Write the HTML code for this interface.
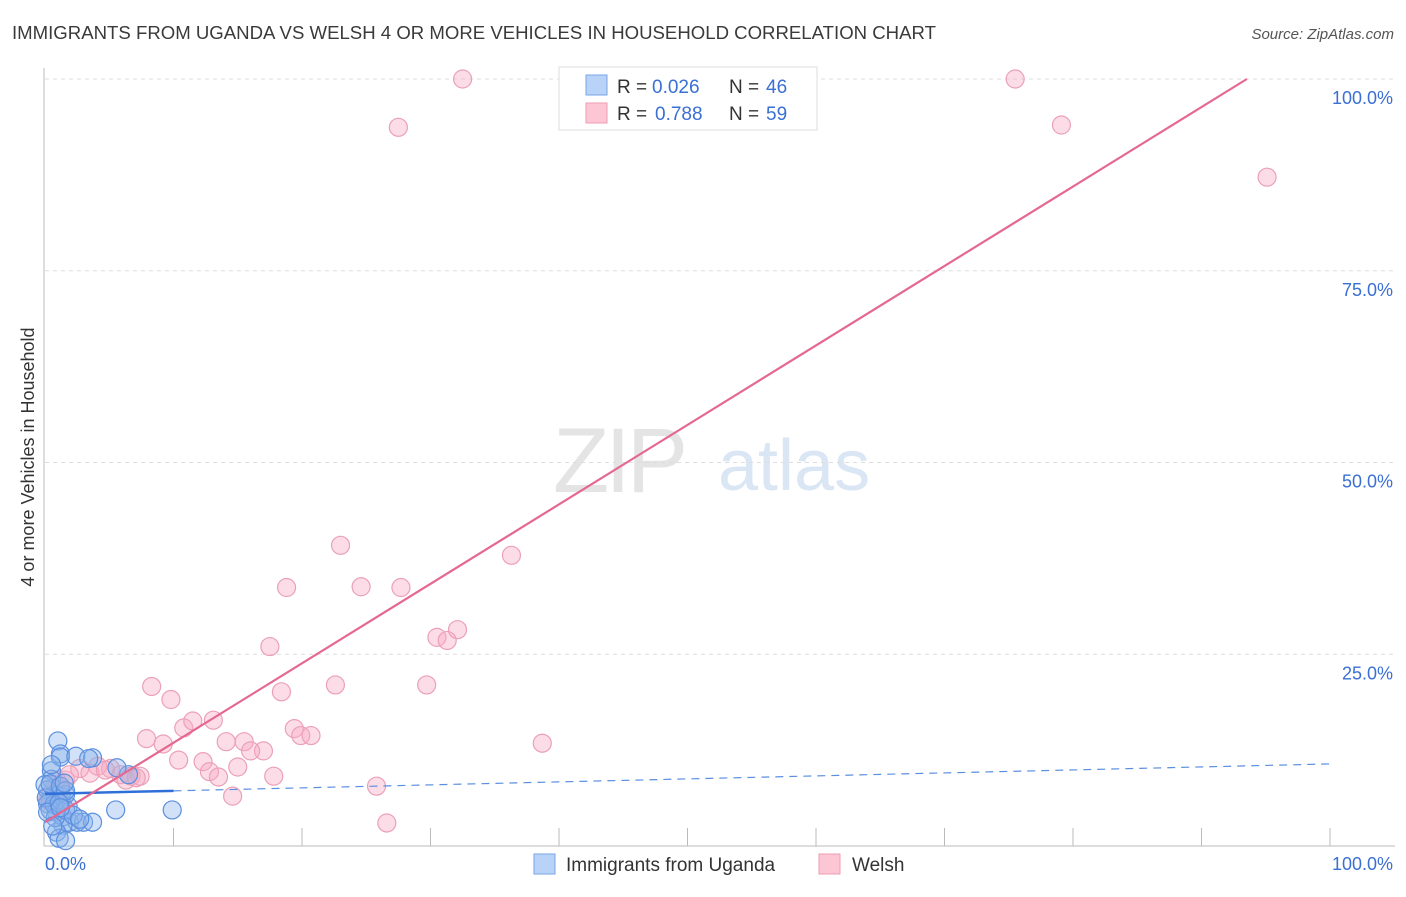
<!DOCTYPE html>
<html><head><meta charset="utf-8"><style>
body{margin:0;background:#fff;font-family:"Liberation Sans",sans-serif;}
svg text{font-family:"Liberation Sans",sans-serif;}
</style></head><body>
<svg id="chart" width="1406" height="892" xmlns="http://www.w3.org/2000/svg">
<text x="12" y="39" font-size="18.6" fill="#3a3a3a">IMMIGRANTS FROM UGANDA VS WELSH 4 OR MORE VEHICLES IN HOUSEHOLD CORRELATION CHART</text>
<text x="1394" y="39" font-size="15" fill="#555" text-anchor="end" font-style="italic">Source: ZipAtlas.com</text>
<g>
<text x="553" y="492" font-size="92" fill="#e4e4e4" font-family="Liberation Serif, serif" letter-spacing="-4">ZIP</text>
<text x="718" y="490" font-size="72" fill="#dbe6f5">atlas</text>
</g>
<g id="grid"></g>
<g id="axes"></g>
<g id="marks"></g>
<text transform="translate(34,457) rotate(-90)" font-size="18" fill="#333" text-anchor="middle">4 or more Vehicles in Household</text>
<g>
<rect x="559" y="67" width="258" height="63" fill="#fff" stroke="#ddd"/>
<rect x="586" y="75" width="21" height="20" fill="#b8d3f7" stroke="#7aa6e6"/>
<rect x="586" y="103" width="21" height="20" fill="#fcc6d5" stroke="#ee9db5"/>
<text x="617" y="93" font-size="19" fill="#333">R =</text>
<text x="652" y="93" font-size="19" fill="#3a6fd4">0.026</text>
<text x="729" y="93" font-size="19" fill="#333">N =</text>
<text x="766" y="93" font-size="19" fill="#3a6fd4">46</text>
<text x="617" y="120" font-size="19" fill="#333">R =</text>
<text x="655" y="120" font-size="19" fill="#3a6fd4">0.788</text>
<text x="729" y="120" font-size="19" fill="#333">N =</text>
<text x="766" y="120" font-size="19" fill="#3a6fd4">59</text>
</g>
<g>
<rect x="534" y="854" width="21" height="20" fill="#b8d3f7" stroke="#7aa6e6"/>
<text x="566" y="871" font-size="19" fill="#333">Immigrants from Uganda</text>
<rect x="819" y="854" width="21" height="20" fill="#fcc6d5" stroke="#ee9db5"/>
<text x="852" y="871" font-size="19" fill="#333">Welsh</text>
</g>
</svg>
<script>
const yTicks=[25,50,75,100];
const yTickLabels=["25.0%","50.0%","75.0%","100.0%"];
const xTicks=[10,20,30,40,50,60,70,80,90,100];
const xEndLabels=["0.0%","100.0%"];
const ugandaX=[1.0,1.2,1.2,2.4,3.7,3.4,0.5,0.5,0.2,0.8,0.4,1.3,0.2,1.8,0.9,1.4,1.9,2.5,3.0,3.7,1.4,0.9,1.1,1.6,5.5,9.9,6.5,5.6,0.4,0.7,1.6,0.0,0.1,0.4,1.2,1.6,0.8,1.6,2.2,2.7,0.2,0.6,1.1,1.2,1.5,0.5];
const ugandaY=[13.7,12.0,11.6,11.7,11.5,11.4,9.8,8.7,7.3,6.7,6.0,6.4,5.5,5.2,4.4,3.8,3.1,3.1,3.1,3.1,2.7,1.8,1.0,0.7,4.7,4.7,9.3,10.2,4.7,5.4,6.7,8.0,6.3,8.1,7.8,7.2,3.7,4.7,4.0,3.5,4.4,2.6,5.6,5.0,8.2,10.6];
const welshX=[32.5,75.5,27.5,79.1,95.1,23.0,36.3,18.8,24.6,27.7,17.5,30.5,31.3,32.1,8.3,9.8,18.4,22.6,29.7,38.7,7.9,9.2,10.8,11.5,13.1,14.1,15.5,17.0,19.4,19.9,20.7,16.0,10.4,12.3,12.8,13.5,15.0,17.8,14.6,25.8,26.6,4.1,5.1,5.9,6.7,7.4,2.7,3.5,1.6,0.8,1.2,0.4,0.2,0.9,1.9,4.7,6.3,7.1,1.3];
const welshY=[100,100,93.7,94.0,87.2,39.2,37.9,33.7,33.8,33.7,26.0,27.2,26.8,28.2,20.8,19.1,20.1,21.0,21.0,13.4,14.0,13.3,15.4,16.3,16.4,13.6,13.6,12.4,15.3,14.4,14.4,12.4,11.2,11.0,9.7,9.0,10.3,9.1,6.5,7.8,3.0,10.4,10.1,9.3,9.1,9.1,10.1,9.5,8.6,8.0,7.3,6.7,6.0,8.6,9.3,9.9,8.6,8.9,6.0];
const ugandaTrend=[6.8,10.7];
const welshTrend=[3.1,106.7];
const NS='http://www.w3.org/2000/svg';
const X0=45,X1=1330,Y0=846,Y1=79;
const sx=v=>X0+(X1-X0)*v/100;
const sy=v=>Y0-(Y0-Y1)*v/100;
function mk(tag,attrs,parent){const e=document.createElementNS(NS,tag);for(const k in attrs)e.setAttribute(k,attrs[k]);parent.appendChild(e);return e;}
const grid=document.getElementById('grid'),axes=document.getElementById('axes'),marks=document.getElementById('marks');
yTicks.forEach((t,i)=>{
 const l=mk('line',{x1:X0,x2:1395,y1:sy(t),y2:sy(t),stroke:'#ddd','stroke-dasharray':'4,4'},grid);
 
 
 const tx=mk('text',{x:1393,y:sy(t)+25,'font-size':18,fill:'#3a6fd4','text-anchor':'end'},axes);
 tx.textContent=yTickLabels[i];
 
 
});
const al=mk('line',{x1:44,x2:44,y1:68,y2:846,stroke:'#bbb'},axes);


const bl=mk('line',{x1:44,x2:1395,y1:846,y2:846,stroke:'#bbb'},axes);


xTicks.forEach(t=>{
 const l=mk('line',{x1:sx(t),x2:sx(t),y1:846,y2:828,stroke:'#bbb'},axes);
 
 
});
const xl0=mk('text',{x:45,y:870,'font-size':18,fill:'#3a6fd4'},axes);xl0.textContent=xEndLabels[0];


const xl1=mk('text',{x:1393,y:870,'font-size':18,fill:'#3a6fd4','text-anchor':'end'},axes);xl1.textContent=xEndLabels[1];


welshX.forEach((x,i)=>{
 const c=mk('circle',{cx:sx(x),cy:sy(welshY[i]),r:9,fill:'rgba(248,170,195,0.4)',stroke:'#eba0b8','stroke-width':1.2},marks);
 
 
});
ugandaX.forEach((x,i)=>{
 const c=mk('circle',{cx:sx(x),cy:sy(ugandaY[i]),r:9,fill:'rgba(140,180,235,0.4)',stroke:'#5b8fe0','stroke-width':1.2},marks);
 
 
});
const slopeU=(ugandaTrend[1]-ugandaTrend[0])/100;
const ud=mk('line',{x1:sx(10),y1:sy(ugandaTrend[0]+slopeU*10),x2:sx(100),y2:sy(ugandaTrend[1]),stroke:'#5b8fe0','stroke-width':1.2,'stroke-dasharray':'8,6'},marks);


const us=mk('line',{x1:sx(0),y1:sy(ugandaTrend[0]),x2:sx(10),y2:sy(ugandaTrend[0]+slopeU*10),stroke:'#2f6fd8','stroke-width':2.5},marks);


const slopeW=(welshTrend[1]-welshTrend[0])/100;
const xEnd=(100-welshTrend[0])/slopeW;
const wl=mk('line',{x1:sx(0),y1:sy(welshTrend[0]),x2:sx(xEnd),y2:sy(100),stroke:'#e4688f','stroke-width':2.2},marks);


</script>
</body></html>
